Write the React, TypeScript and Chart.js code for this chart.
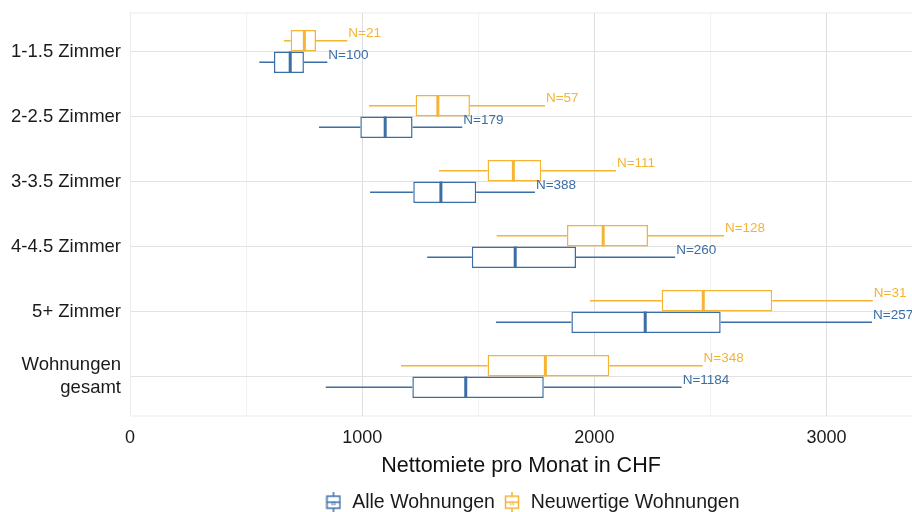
import React, { useEffect, useRef } from 'react';
import { Chart, registerables } from 'chart.js';

Chart.register(...registerables);

// ---- Data ----
const categories: (string | string[])[] = [
  '1-1.5 Zimmer',
  '2-2.5 Zimmer',
  '3-3.5 Zimmer',
  '4-4.5 Zimmer',
  '5+ Zimmer',
  ['Wohnungen', 'gesamt'],
];
const positions = [1, 2, 3, 4, 5, 6];

const seriesNames = ['Neuwertige Wohnungen', 'Alle Wohnungen'];

const newMin = [663, 1029, 1331, 1579, 1981, 1167];
const newQ1 = [692, 1230, 1540, 1882, 2290, 1540];
const newMedian = [751, 1326, 1651, 2038, 2469, 1789];
const newQ3 = [801, 1464, 1771, 2231, 2766, 2064];
const newMax = [936, 1787, 2093, 2558, 3199, 2466];
const newN = [21, 57, 111, 128, 31, 348];

const allMin = [557, 814, 1034, 1280, 1576, 843];
const allQ1 = [620, 992, 1220, 1472, 1901, 1216];
const allMedian = [690, 1099, 1339, 1659, 2219, 1446];
const allQ3 = [749, 1217, 1491, 1921, 2544, 1782];
const allMax = [850, 1431, 1744, 2348, 3196, 2376];
const allN = [100, 179, 388, 260, 257, 1184];

const xTicks = [0, 500, 1000, 1500, 2000, 2500, 3000];
const xMin = 0;
const xMax = 3368;

const ORANGE = '#f5b433';
const BLUE = '#3b6ea6';
const FONT = "'Liberation Sans', Arial, sans-serif";

function makeGlyph(color: string): HTMLCanvasElement {
  const c = document.createElement('canvas');
  c.width = 16;
  c.height = 20;
  const g = c.getContext('2d')!;
  g.strokeStyle = color;
  g.lineWidth = 1.5;
  g.beginPath();
  g.moveTo(8, 0);
  g.lineTo(8, 4);
  g.moveTo(8, 16);
  g.lineTo(8, 20);
  g.stroke();
  g.fillStyle = '#ffffff';
  g.fillRect(1.5, 4, 13, 12);
  g.strokeRect(1.5, 4, 13, 12);
  g.beginPath();
  g.moveTo(1.5, 10);
  g.lineTo(14.5, 10);
  g.stroke();
  g.fillStyle = color;
  g.font = `8px ${FONT}`;
  g.textAlign = 'center';
  g.textBaseline = 'middle';
  g.fillText('a', 8, 11);
  return c;
}

export default function App() {
  const ref = useRef<HTMLCanvasElement | null>(null);

  useEffect(() => {
    if (!ref.current) return;
    const glyphs = [makeGlyph(ORANGE), makeGlyph(BLUE)];
    const stats = [
      { min: newMin, q1: newQ1, med: newMedian, q3: newQ3, max: newMax, n: newN, color: ORANGE },
      { min: allMin, q1: allQ1, med: allMedian, q3: allQ3, max: allMax, n: allN, color: BLUE },
    ];

    const boxPlugin = {
      id: 'boxExtras',
      afterLayout(chart: any) {
        if (chart.legend) {
          chart.legend.left += 11;
          chart.legend.right += 11;
        }
      },
      beforeDatasetsDraw(chart: any) {
        const { ctx, chartArea } = chart;
        ctx.save();
        ctx.strokeStyle = '#ebebeb';
        ctx.lineWidth = 1;
        ctx.strokeRect(chartArea.left + 0.5, chartArea.top + 0.5, chartArea.right - chartArea.left, chartArea.bottom - chartArea.top);
        ctx.restore();
      },
      afterDatasetsDraw(chart: any) {
        const { ctx } = chart;
        const xs = chart.scales.x;
        stats.forEach((s, di) => {
          const meta = chart.getDatasetMeta(di);
          meta.data.forEach((bar: any, i: number) => {
            const { y, height } = bar.getProps(['y', 'height'], true);
            const pMin = xs.getPixelForValue(s.min[i]);
            const pQ1 = xs.getPixelForValue(s.q1[i]);
            const pMed = xs.getPixelForValue(s.med[i]);
            const pQ3 = xs.getPixelForValue(s.q3[i]);
            const pMax = xs.getPixelForValue(s.max[i]);
            ctx.save();
            ctx.strokeStyle = s.color;
            ctx.lineWidth = 1.5;
            ctx.beginPath();
            ctx.moveTo(pMin, y);
            ctx.lineTo(pQ1, y);
            ctx.moveTo(pQ3, y);
            ctx.lineTo(pMax, y);
            ctx.stroke();
            ctx.lineWidth = 3;
            ctx.beginPath();
            ctx.moveTo(pMed, y - height / 2);
            ctx.lineTo(pMed, y + height / 2);
            ctx.stroke();
            ctx.fillStyle = s.color;
            ctx.font = `13.5px ${FONT}`;
            ctx.textAlign = 'left';
            ctx.textBaseline = 'middle';
            ctx.fillText(`N=${s.n[i]}`, pMax + 1, y - 7);
            ctx.restore();
          });
        });
      },
    };

    const chart = new Chart(ref.current, {
      type: 'bar',
      data: {
        datasets: [
          {
            label: seriesNames[0],
            data: positions.map((p, i) => ({ x: [newQ1[i], newQ3[i]], y: p })) as any,
            backgroundColor: '#ffffff',
            borderColor: ORANGE,
            borderWidth: 1.5,
            borderSkipped: false,
          },
          {
            label: seriesNames[1],
            data: positions.map((p, i) => ({ x: [allQ1[i], allQ3[i]], y: p })) as any,
            backgroundColor: '#ffffff',
            borderColor: BLUE,
            borderWidth: 1.5,
            borderSkipped: false,
          },
        ],
      },
      options: {
        indexAxis: 'y',
        responsive: false,
        animation: false,
        categoryPercentage: 0.66,
        barPercentage: 1,
        layout: { padding: { top: 12.5, right: 0, bottom: -10, left: 0 } },
        scales: {
          x: {
            type: 'linear',
            min: xMin,
            max: xMax,
            offset: false,
            afterBuildTicks: (scale: any) => {
              scale.ticks = xTicks.map((v) => ({ value: v }));
            },
            afterFit: (scale: any) => {
              scale.height = 69;
            },
            ticks: {
              includeBounds: false,
              padding: 12,
              color: '#1a1a1a',
              font: { family: FONT, size: 18 },
              maxRotation: 0,
              callback: (v: any) => (Number(v) % 1000 === 0 ? String(v) : ''),
            },
            grid: {
              drawTicks: false,
              offset: false,
              color: (c: any) => (c.tick && c.tick.value % 1000 === 0 ? '#dedede' : '#ededed'),
              lineWidth: (c: any) => (c.tick && c.tick.value % 1000 === 0 ? 1 : 0.8),
            },
            border: { display: false },
            title: {
              display: true,
              text: 'Nettomiete pro Monat in CHF',
              color: '#111111',
              font: { family: FONT, size: 21.5 },
              padding: { top: 0, bottom: 6 },
            },
          },
          y: {
            type: 'linear',
            min: 0.4,
            max: 6.6,
            reverse: true,
            offset: false,
            afterBuildTicks: (scale: any) => {
              scale.ticks = positions.map((v) => ({ value: v }));
            },
            afterFit: (scale: any) => {
              scale.width = 130;
              scale.paddingTop = 0;
              scale.paddingBottom = 0;
            },
            ticks: {
              padding: 9,
              color: '#1a1a1a',
              font: { family: FONT, size: 18.5 },
              callback: (v: any) => categories[positions.indexOf(Number(v))] as any,
            },
            grid: { drawTicks: false, offset: false, color: '#e2e2e2', lineWidth: 1 },
            border: { display: false },
          },
        },
        plugins: {
          tooltip: { enabled: false },
          legend: {
            position: 'bottom',
            fullSize: false,
            reverse: true,
            labels: {
              usePointStyle: true,
              pointStyleWidth: 18,
              padding: 8,
              color: '#1a1a1a',
              font: { family: FONT, size: 19.5 },
              generateLabels: (ch: any) => {
                const items = (Chart.defaults.plugins.legend.labels as any).generateLabels(ch);
                return items.map((it: any) => ({ ...it, pointStyle: glyphs[it.datasetIndex], fontColor: '#1a1a1a' }));
              },
            },
          },
        },
      } as any,
      plugins: [boxPlugin],
    });
    return () => chart.destroy();
  }, []);

  return (
    <div style={{ position: 'fixed', left: 0, top: 0, width: 912, height: 512, background: '#fff' }}>
      <canvas ref={ref} width={912} height={512} style={{ display: 'block' }} />
    </div>
  );
}
